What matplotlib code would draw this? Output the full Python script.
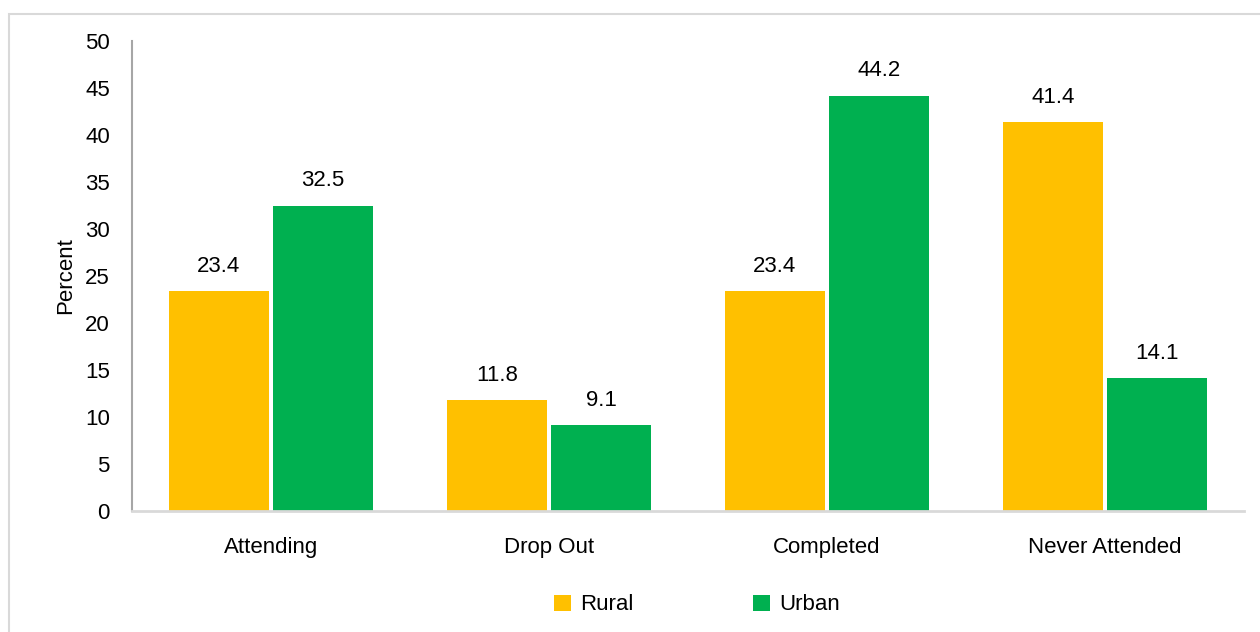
import numpy as np
import matplotlib
matplotlib.use("Agg")
import matplotlib.pyplot as plt
from matplotlib.patches import Rectangle

plt.rcParams['font.family'] = ['Liberation Sans Narrow', 'Liberation Sans', 'DejaVu Sans']

# data
categories = ["Attending", "Drop Out", "Completed", "Never Attended"]
rural = [23.4, 11.8, 23.4, 41.4]
urban = [32.5, 9.1, 44.2, 14.1]
yticks = [0, 5, 10, 15, 20, 25, 30, 35, 40, 45, 50]

W, H = 1260, 632
fig = plt.figure(figsize=(W / 100, H / 100), dpi=100)

# light frame around the chart area (cut off on right / bottom)
fig.patches.append(Rectangle((9 / W, -0.2), 1.2, 1.2 - 14 / H, transform=fig.transFigure,
                             fill=False, edgecolor='#d9d9d9', linewidth=1.5))

ax = fig.add_axes([132 / W, 1 - 511 / H, (1244 - 132) / W, (511 - 41) / H])

x = np.arange(len(categories))
bw = 0.36
gap = 0.0144
b1 = ax.bar(x - bw / 2 - gap / 2, rural, bw, color='#FFC000', label='Rural')
b2 = ax.bar(x + bw / 2 + gap / 2, urban, bw, color='#00B050', label='Urban')

fs = 16
for bars in (b1, b2):
    for b in bars:
        ax.text(b.get_x() + b.get_width() / 2, b.get_height() + 1.5, f"{b.get_height():.1f}",
                ha='center', va='bottom', fontsize=fs)

ax.set_xlim(-0.5, len(categories) - 0.5)
ax.set_ylim(0, 50)
ax.set_yticks(yticks)
ax.set_xticks(x)
ax.set_xticklabels(categories)
ax.tick_params(axis='both', length=0, labelsize=fs)
ax.tick_params(axis='y', pad=16)
ax.tick_params(axis='x', pad=19)
ax.set_ylabel("Percent", fontsize=fs, labelpad=6)

for s in ['top', 'right']:
    ax.spines[s].set_visible(False)
ax.spines['left'].set_color('#a6a6a6')
ax.spines['left'].set_linewidth(1.5)
ax.spines['bottom'].set_color('#d9d9d9')
ax.spines['bottom'].set_linewidth(2)

ax.legend(loc='center', bbox_to_anchor=(0.508, -0.2), ncol=2, frameon=False,
          fontsize=fs, handlelength=0.75, handleheight=0.75, handletextpad=0.4,
          columnspacing=5.4)

fig.savefig("out.png", dpi=100)
